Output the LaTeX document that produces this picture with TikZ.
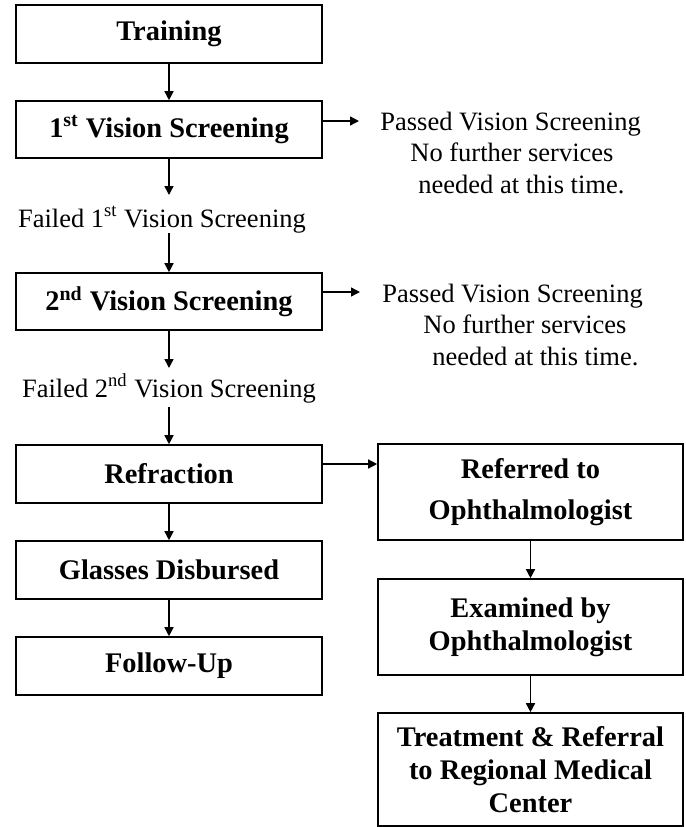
\documentclass[tikz,border=0pt]{standalone}
\usepackage{fontspec}
\setmainfont{Liberation Serif}
\usetikzlibrary{arrows.meta}
\begin{document}
\begin{tikzpicture}[x=0.5pt,y=-0.5pt,
  box/.style={draw,line width=0.8pt,minimum width=153pt,inner sep=0pt,align=center,
    font=\fontsize{14.2}{16.5}\selectfont\bfseries},
  note/.style={inner sep=0pt,font=\fontsize{13.25}{15.75}\selectfont},
  arr/.style={line width=0.7pt,-{Triangle[length=4.5pt,width=4.5pt]}}]
\useasboundingbox (0,0) rectangle (686,827);
% left column boxes
\node[box,minimum height=29pt] (train) at (169,34) {Training};
\node[box,minimum height=28.5pt] (vs1) at (169,129.5) {1\textsuperscript{st} Vision Screening};
\node[note,anchor=base] (fail1) at (162,227) {Failed 1\textsuperscript{st} Vision Screening};
\node[box,minimum height=28.5pt] (vs2) at (169,301.5) {2\textsuperscript{nd} Vision Screening};
\node[note,anchor=base] (fail2) at (169,397) {Failed 2\textsuperscript{nd} Vision Screening};
\node[box,minimum height=29pt] (refr) at (169,474) {Refraction};
\node[box,minimum height=29pt] (glass) at (169,570) {Glasses Disbursed};
\node[box,minimum height=29pt] (follow) at (169,666) {Follow-Up};
% right column boxes
\node[box,minimum width=152.5pt,minimum height=48pt] (ref) at (530.5,492) {Referred to\\[4pt]Ophthalmologist};
\node[box,minimum width=152.5pt,minimum height=48pt] (exam) at (530.5,627) {Examined by\\Ophthalmologist};
\node[box,minimum width=152.5pt,minimum height=56.5pt] (treat) at (530.5,769.5) {Treatment \& Referral\\to Regional Medical\\Center};
% passed notes (base anchor = baseline of last line)
\node[note,align=left,anchor=base west] (pass1) at (380,193)
  {Passed Vision Screening\\\hspace*{15pt}No further services\\\hspace*{19pt}needed at this time.};
\node[note,align=left,anchor=base west] (pass2) at (382,365)
  {Passed Vision Screening\\\hspace*{20.5pt}No further services\\\hspace*{25pt}needed at this time.};
% free ends
\coordinate (f1a) at (169,195);
\coordinate (f1b) at (169,233);
\coordinate (f2a) at (169,368);
\coordinate (f2b) at (169,407);
\coordinate (p1) at (359,121);
\coordinate (p2) at (360,292);
% connectors
\draw[arr] (train) -- (vs1);
\draw[arr] (vs1) -- (f1a);
\draw[arr] (f1b) -- (vs2);
\draw[arr] (vs2) -- (f2a);
\draw[arr] (f2b) -- (refr);
\draw[arr] (vs1.east |- p1) -- (p1);
\draw[arr] (vs2.east |- p2) -- (p2);
\draw[arr] ([yshift=5pt]refr.east) -- ([yshift=5pt]refr.east -| ref.west);
\draw[arr] (refr) -- (glass);
\draw[arr] (glass) -- (follow);
\draw[arr] (ref) -- (exam);
\draw[arr] (exam) -- (treat);
\end{tikzpicture}
\end{document}
